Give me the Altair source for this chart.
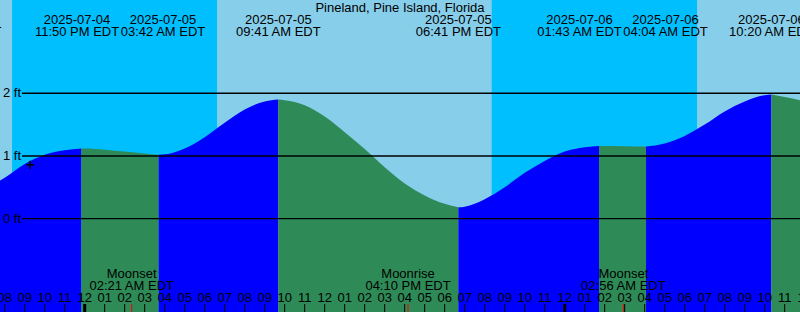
import altair as alt
import pandas as pd

TITLE = "Pineland, Pine Island, Florida"
ZONE = "EDT"
ORIGIN = "2025-07-05 00:00"
FONT = "Liberation Sans"

# tide extremes (high / low)
tide_times = ["2025-07-04 17:42", "2025-07-04 23:50", "2025-07-05 03:42", "2025-07-05 09:41",
              "2025-07-05 18:41", "2025-07-06 01:43", "2025-07-06 04:04", "2025-07-06 10:20"]
tide_ft = [0.41, 1.12, 1.02, 1.90, 0.18, 1.16, 1.15, 1.98]

# hourly tide heights, starting at curve_start
curve_start = "2025-07-04 18:00"
curve_ft = [0.42, 0.49, 0.65, 0.87, 1.02, 1.09, 1.12, 1.10, 1.07, 1.04, 1.025, 1.12, 1.30,
            1.53, 1.74, 1.87, 1.89, 1.81, 1.63, 1.38, 1.11, 0.82, 0.56, 0.37, 0.235, 0.19,
            0.31, 0.50, 0.73, 0.92, 1.07, 1.14, 1.16, 1.155, 1.15, 1.20, 1.32, 1.50, 1.71,
            1.87, 1.97, 1.94, 1.87]

# night (sunset -> sunrise)
night_start = ["2025-07-04 20:22", "2025-07-05 20:21"]
night_end = ["2025-07-05 06:37", "2025-07-06 06:37"]

# moon events
moon_times = ["2025-07-05 02:21", "2025-07-05 16:10", "2025-07-06 02:56"]
moon_events = ["Moonset", "Moonrise", "Moonset"]

ft_levels = [0, 1, 2]

now_time = "2025-07-04 21:16"
now_ft = 0.86

hour_start = "2025-07-04 19:00"
hour_count = 42

origin = pd.Timestamp(ORIGIN)


def hrs(t):
    return (pd.Timestamp(t) - origin).total_seconds() / 3600.0


# ---- scales
x_dom = [-84.7 / 20.0, (800 - 84.7) / 20.0]
Y_MIN, Y_MAX = -1.491, 3.489
xs = alt.Scale(domain=x_dom, nice=False, zero=False)
ys = alt.Scale(domain=[Y_MIN, Y_MAX], nice=False, zero=False)

# ---- tide curve table, split into rising / falling segments
curve_times = pd.date_range(curve_start, periods=len(curve_ft), freq="h")
pts = sorted([(hrs(t), v) for t, v in zip(curve_times, curve_ft)])
ext = sorted([(hrs(t), v) for t, v in zip(tide_times, tide_ft)])
bounds = [(-1e9, None)] + ext + [(1e9, None)]
rows = []
for i in range(len(bounds) - 1):
    a, b = bounds[i], bounds[i + 1]
    seg = [p for p in pts if a[0] < p[0] < b[0]]
    if a[1] is not None:
        seg = [a] + seg
    if b[1] is not None:
        seg = seg + [b]
    if len(seg) < 2:
        continue
    phase = "rising" if seg[-1][1] > seg[0][1] else "falling"
    for h, v in seg:
        rows.append(dict(h=h, ft=v, base=Y_MIN, seg=f"s{i}", phase=phase))
curve_df = pd.DataFrame(rows)

# ---- tide labels, pushed apart where they would overlap
W = 4.3
centers = [hrs(t) for t in tide_times]
lab = list(centers)
for i in range(len(lab) - 1):
    if lab[i + 1] - lab[i] < W:
        mid = (lab[i] + lab[i + 1]) / 2
        lab[i] = mid - W / 2
        lab[i + 1] = mid + W / 2
tide_df = pd.DataFrame({
    "lh": lab,
    "date": [pd.Timestamp(t).strftime("%Y-%m-%d") for t in tide_times],
    "time": [pd.Timestamp(t).strftime("%I:%M %p") + " " + ZONE for t in tide_times],
})

night_df = pd.DataFrame({"a": [hrs(t) for t in night_start], "b": [hrs(t) for t in night_end]})

moon_df = pd.DataFrame({
    "h": [hrs(t) for t in moon_times],
    "ev": moon_events,
    "time": [pd.Timestamp(t).strftime("%I:%M %p") + " " + ZONE for t in moon_times],
})

hour_times = pd.date_range(hour_start, periods=hour_count, freq="h")
hour_df = pd.DataFrame({
    "h": [hrs(t) for t in hour_times],
    "lab": [t.strftime("%I") for t in hour_times],
    "midnight": [1 if t.hour == 0 else 0 for t in hour_times],
})

ft_df = pd.DataFrame({"ft": ft_levels, "lab": [f"{v} ft" for v in ft_levels]})
now_df = pd.DataFrame({"h": [hrs(now_time)], "ft": [now_ft]})
title_df = pd.DataFrame({"t": [TITLE]})

X = lambda f: alt.X(f, scale=xs, axis=None)
Y = lambda f: alt.Y(f, scale=ys, axis=None)

nights = alt.Chart(night_df).mark_rect(color="#00BFFF").encode(
    x=X("a:Q"), x2="b:Q", y=alt.value(0), y2=alt.value(312))

area = alt.Chart(curve_df).mark_area(interpolate="monotone", clip=True, opacity=1).encode(
    x=X("h:Q"),
    y=alt.Y("ft:Q", scale=ys, axis=None, stack=None),
    y2="base:Q",
    color=alt.Color("phase:N", scale=alt.Scale(domain=["rising", "falling"],
                                               range=["#0000FF", "#2E8B57"]), legend=None),
    detail="seg:N",
)

ft_lines = alt.Chart(ft_df).mark_rule(color="black", strokeWidth=1.4).encode(
    y=Y("ft:Q"), x=alt.value(22), x2=alt.value(800))
ft_text = alt.Chart(ft_df).mark_text(align="left", baseline="middle", font=FONT,
                                     fontSize=13, color="black").encode(
    y=Y("ft:Q"), x=alt.value(3), text="lab:N")

tide_date = alt.Chart(tide_df).mark_text(align="center", baseline="alphabetic", font=FONT,
                                         fontSize=13, color="black").encode(
    x=X("lh:Q"), y=alt.value(24), text="date:N")
tide_time = alt.Chart(tide_df).mark_text(align="center", baseline="alphabetic", font=FONT,
                                         fontSize=13, color="black").encode(
    x=X("lh:Q"), y=alt.value(36), text="time:N")

title = alt.Chart(title_df).mark_text(align="center", baseline="alphabetic", font=FONT,
                                      fontSize=13, color="black").encode(
    x=alt.value(400), y=alt.value(12), text="t:N")

hour_ticks = alt.Chart(hour_df).transform_filter("datum.midnight == 0").mark_rule(
    color="black", strokeWidth=1).encode(x=X("h:Q"), y=alt.value(304), y2=alt.value(312))
mid_ticks = alt.Chart(hour_df).transform_filter("datum.midnight == 1").mark_rule(
    color="black", strokeWidth=3).encode(x=X("h:Q"), y=alt.value(304), y2=alt.value(312))
hour_text = alt.Chart(hour_df).mark_text(align="center", baseline="alphabetic", font=FONT,
                                         fontSize=13, color="black").encode(
    x=X("h:Q"), y=alt.value(302), text="lab:N")

moon_ticks = alt.Chart(moon_df).mark_rule(color="red", strokeWidth=1).encode(
    x=X("h:Q"), y=alt.value(304), y2=alt.value(312))
moon_ev = alt.Chart(moon_df).mark_text(align="center", baseline="alphabetic", font=FONT,
                                       fontSize=13, color="black").encode(
    x=X("h:Q"), y=alt.value(278), text="ev:N")
moon_time = alt.Chart(moon_df).mark_text(align="center", baseline="alphabetic", font=FONT,
                                         fontSize=13, color="black").encode(
    x=X("h:Q"), y=alt.value(290), text="time:N")

now_pt = alt.Chart(now_df).mark_point(shape="M-1,0L1,0M0,-1L0,1", size=64, strokeWidth=1.6,
                                      color="black", filled=False, opacity=1).encode(
    x=X("h:Q"), y=Y("ft:Q"))

chart = alt.layer(
    nights, area, ft_lines, ft_text, tide_date, tide_time, title,
    hour_ticks, mid_ticks, moon_ticks, hour_text, moon_ev, moon_time, now_pt,
).properties(
    width=800, height=312, padding=0, autosize=alt.AutoSizeParams(type="none")
).configure_view(stroke=None, fill="#87CEEB")

chart.save("out.html", embed_options={"renderer": "svg", "actions": False})
